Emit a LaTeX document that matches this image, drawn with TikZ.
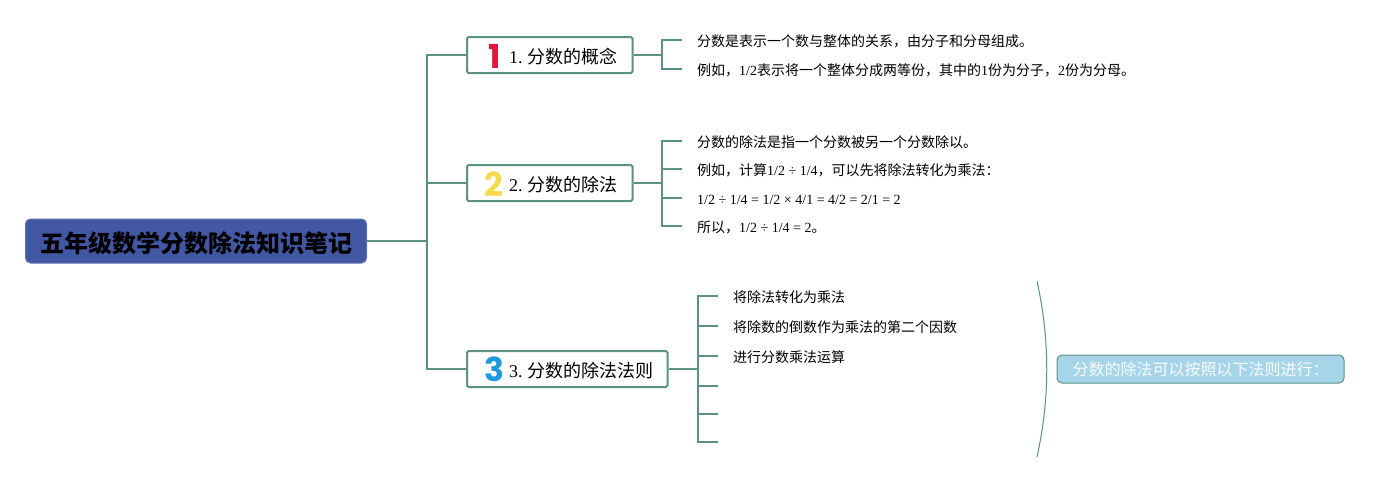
\documentclass[tikz,border=0pt]{standalone}
\usepackage{fontspec}
\setmainfont{Liberation Serif}
\newfontfamily\cjk{Noto Sans CJK SC}
\newfontfamily\numfont{Poppins}
\newcommand{\zh}[1]{{\cjk #1}}
\definecolor{linecol}{HTML}{5A9182}
\definecolor{rootfill}{HTML}{4358A5}
\definecolor{notefill}{HTML}{A6D4E8}
\definecolor{numred}{HTML}{E0183C}
\definecolor{numyellow}{HTML}{F6D94C}
\definecolor{numblue}{HTML}{1F9BDD}
\tikzset{
  x=1pt,y=-1pt,
  conn/.style={draw=linecol,line width=2pt},
  rootbox/.style={draw=rootfill!85!white,fill=rootfill,line width=1pt,rounded corners=5pt,inner sep=0pt,font=\fontsize{24}{28}\selectfont\bfseries\cjk,text=black,text height=23pt,text depth=-1pt},
  branchbox/.style={draw=linecol,fill=white,line width=2pt,rounded corners=1.5pt,inner sep=0pt},
  branchtext/.style={font=\fontsize{18}{22}\selectfont,anchor=west,inner sep=0pt,text height=16pt,text depth=0pt},
  numeral/.style={font=\fontsize{33}{33}\selectfont\bfseries\numfont,inner sep=0pt},
  item/.style={font=\fontsize{14}{17}\selectfont,anchor=west,inner ysep=0pt,inner xsep=15pt,text height=13pt,text depth=1pt},
  notebox/.style={draw=linecol,fill=notefill,line width=1pt,rounded corners=5pt,inner sep=0pt,font=\fontsize{16}{20}\selectfont\cjk,text=white!92!notefill},
}
\begin{document}
\begin{tikzpicture}
\useasboundingbox (0,0) rectangle (1389,482);
% nodes
\node[rootbox,minimum width=341pt,minimum height=44pt] (root) at (196,241) {五年级数学分数除法知识笔记};
\node[branchbox,minimum width=165.5pt,minimum height=36pt] (b1) at (549.75,55) {};
\node[branchbox,minimum width=165.5pt,minimum height=36pt] (b2) at (549.75,183) {};
\node[branchbox,minimum width=200.5pt,minimum height=36pt] (b3) at (567.25,369) {};
\node[numeral,text=numred] (n1) at (494.5,56) {1};
\node[numeral,text=numyellow] (n2) at (494,184) {2};
\node[numeral,text=numblue] (n3) at (494,369.5) {3};
\node[branchtext] (t1) at (509,55) {1.\hspace{4.5pt}\zh{分数的概念}};
\node[branchtext] (t2) at (509,183) {2.\hspace{4.5pt}\zh{分数的除法}};
\node[branchtext] (t3) at (509,369) {3.\hspace{4.5pt}\zh{分数的除法法则}};
\node[item] (i11) at (682,40) {\zh{分数是表示一个数与整体的关系，由分子和分母组成。}};
\node[item] (i12) at (682,69) {\zh{例如，}1/2\zh{表示将一个整体分成两等份，其中的}1\zh{份为分子，}2\zh{份为分母。}};
\node[item] (i21) at (682,141) {\zh{分数的除法是指一个分数被另一个分数除以。}};
\node[item] (i22) at (682,169) {\zh{例如，计算}1/2 ÷ 1/4\zh{，可以先将除法转化为乘法：}};
\node[item] (i23) at (682,198) {1/2 ÷ 1/4 = 1/2 × 4/1 = 4/2 = 2/1 = 2};
\node[item] (i24) at (682,226) {\zh{所以，}1/2 ÷ 1/4 = 2\zh{。}};
\node[item] (i31) at (718,296) {\zh{将除法转化为乘法}};
\node[item] (i32) at (718,326) {\zh{将除数的倒数作为乘法的第二个因数}};
\node[item] (i33) at (718,356) {\zh{进行分数乘法运算}};
\coordinate (i34) at (718,386);
\coordinate (i35) at (718,414);
\coordinate (i36) at (718,442);
\coordinate (tr) at (427,241);
\coordinate (j1) at (662,55);
\coordinate (j2) at (662,183);
\coordinate (j3) at (698,369);
\node[notebox,minimum width=287pt,minimum height=28pt] (note) at (1200.5,369) {分数的除法可以按照以下法则进行：};
\coordinate (bt) at (1037,281);
\coordinate (bb) at (1037,457);
% connectors
\draw[conn] (root.east) -- (tr);
\draw[conn] (tr) |- (b1.west);
\draw[conn] (tr) |- (b2.west);
\draw[conn] (tr) |- (b3.west);
\draw[conn] (b1.east) -- (j1);
\draw[conn] (j1) |- (i11.west);
\draw[conn] (j1) |- (i12.west);
\draw[conn] (b2.east) -- (j2);
\foreach \k in {i21,i22,i23,i24} \draw[conn] (j2) |- (\k.west);
\draw[conn] (b3.east) -- (j3);
\foreach \k in {i31,i32,i33} \draw[conn] (j3) |- (\k.west);
\foreach \k in {i34,i35,i36} \draw[conn] (j3) |- (\k);
\draw[draw=linecol,line width=1pt] (bt) .. controls (1050,340) and (1050,398) .. (bb);
\end{tikzpicture}
\end{document}
